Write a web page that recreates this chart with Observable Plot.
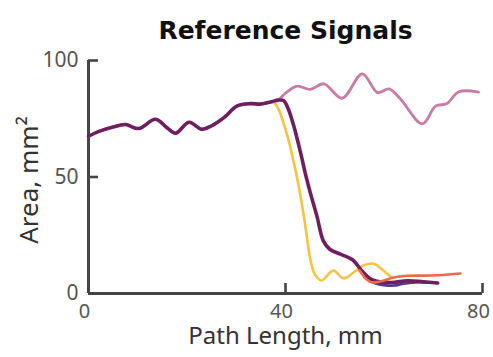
<!DOCTYPE html>
<html>
<head>
<meta charset="utf-8">
<script src="https://cdn.jsdelivr.net/npm/d3@7"></script>
<script src="https://cdn.jsdelivr.net/npm/@observablehq/plot@0.6"></script>
<style>
  html, body { margin: 0; padding: 0; background: #fff; }
</style>
</head>
<body>
<div id="chart"></div>
<script>
// Shared segment (all signals coincide here)
const commonX = [0, 2, 5, 7.5, 10.2, 13.6, 16, 17.7, 20.4, 23, 25, 27.5, 30.2, 32.9, 35, 37];
const commonY = [67.5, 69.5, 71.5, 72.5, 70.8, 74.8, 71, 68.8, 73.5, 70.5, 72, 75.5, 80.5, 81.5, 81.3, 82.2];

// Light pink signal after the shared segment
const pinkX = [38.5, 40, 42.4, 45, 47.8, 51.5, 55.6, 58.7, 61, 63.3, 67.8, 70.5, 72.7, 75.2, 79.2];
const pinkY = [83, 86, 89, 87.6, 90, 83.8, 94.3, 86.2, 87.8, 83.6, 72.8, 80.5, 81.4, 86.6, 86.4];

// Dark purple signal
const purpleX = [38.5, 39.6, 40.6, 41.6, 43, 44.2, 45.2, 46.4, 47.7, 49, 51, 53.6, 55.6, 57.7, 61.3, 64.8, 68, 70.9];
const purpleY = [83, 82.8, 79, 72.5, 61, 50, 42, 33, 22.5, 19, 17, 14.5, 9.5, 5.8, 4.7, 5.5, 5, 4.5];

// Yellow signal
const yellowX = [35, 37.6, 38.6, 39.6, 40.6, 41.6, 42.6, 43.6, 44.3, 45, 46, 47.3, 49.7, 51.8, 53.8, 55.8, 57.9, 59.9, 61.5];
const yellowY = [81.3, 82, 79, 73, 66, 57, 47, 35, 25, 15, 8, 5.6, 9.8, 6.5, 9, 12, 12.8, 9.8, 7];

// Orange signal
const orangeX = [55, 56.5, 57.5, 60, 62, 65, 69.5, 75.5];
const orangeY = [10, 6, 4.8, 5.6, 6.9, 7.6, 7.7, 8.6];

// Indigo signal
const indigoX = [56, 58, 60, 62, 64, 67, 70.9];
const indigoY = [7, 4.5, 3.6, 3.4, 4.2, 4.8, 4.5];

const xTicks = [0, 40, 80];
const yTicks = [0, 50, 100];

const toRows = (xs, ys) => xs.map((x, i) => ({x, y: ys[i]}));
const common = toRows(commonX, commonY);
const pink = common.concat(toRows(pinkX, pinkY));
const purple = common.concat(toRows(purpleX, purpleY));
const yellow = toRows(yellowX, yellowY);
const orange = toRows(orangeX, orangeY);
const indigo = toRows(indigoX, indigoY);

const font = "'Noto Sans', 'Open Sans', sans-serif";
const W = 493, H = 357, mT = 60, mL = 88, mR = 11, mB = 64;
const tickLen = 10;

const chart = Plot.plot({
  width: W,
  height: H,
  marginTop: mT,
  marginLeft: mL,
  marginRight: mR,
  marginBottom: mB,
  style: {fontFamily: font, background: "#fff"},
  x: {domain: [0, 80]},
  y: {domain: [0, 100]},
  marks: [
    Plot.axisX({ticks: xTicks, tickSize: 0, tickPadding: 10, dx: -4, fontSize: 20, color: "#555", label: null}),
    Plot.axisY({ticks: yTicks, tickSize: 0, tickPadding: 10, fontSize: 21, color: "#555", label: null}),
    Plot.ruleX(xTicks, {stroke: "#444", strokeWidth: 2.6, insetTop: H - mT - mB - tickLen}),
    Plot.ruleY(yTicks, {stroke: "#444", strokeWidth: 2.6, insetRight: W - mL - mR - tickLen}),
    Plot.ruleX([0], {stroke: "#444", strokeWidth: 3}),
    Plot.ruleY([0], {stroke: "#444", strokeWidth: 3}),
    Plot.line(pink, {x: "x", y: "y", stroke: "#c97ba3", strokeWidth: 2.8, curve: "catmull-rom"}),
    Plot.line(yellow, {x: "x", y: "y", stroke: "#f6c443", strokeWidth: 2.6, curve: "catmull-rom"}),
    Plot.line(indigo, {x: "x", y: "y", stroke: "#4f3a8f", strokeWidth: 2.6, curve: "catmull-rom"}),
    Plot.line(purple, {x: "x", y: "y", stroke: "#6e1f5e", strokeWidth: 3.6, curve: "catmull-rom"}),
    Plot.line(orange, {x: "x", y: "y", stroke: "#ec6a4c", strokeWidth: 2.6, curve: "catmull-rom"}),
    Plot.text(["Reference Signals"], {frameAnchor: "top", dy: -39, fontSize: 25, fontWeight: "bold", fill: "#111", fontFamily: "'DejaVu Sans', sans-serif"}),
    Plot.text(["Path Length, mm"], {frameAnchor: "bottom", dy: 50, fontSize: 24, fill: "#333"}),
    Plot.text(["Area, mm²"], {frameAnchor: "left", textAnchor: "middle", dx: -59, dy: 3, rotate: -90, fontSize: 26, fill: "#333"})
  ]
});
document.getElementById("chart").appendChild(chart);
</script>
</body>
</html>
